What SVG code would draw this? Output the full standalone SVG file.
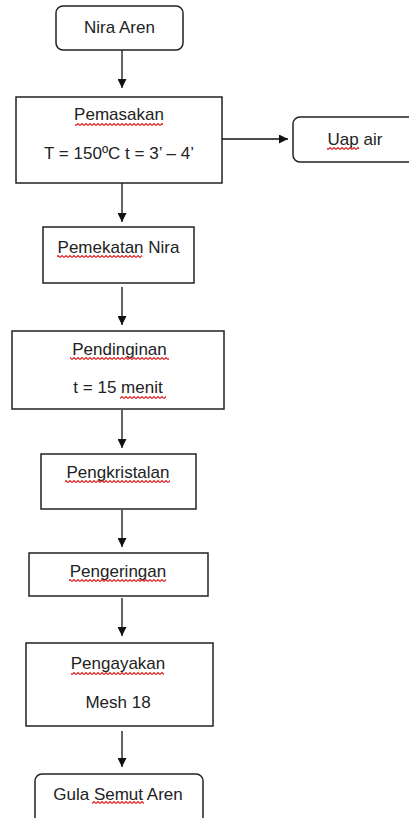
<svg xmlns="http://www.w3.org/2000/svg" width="409" height="818" viewBox="0 0 409 818">
<defs>
<style>
.box{fill:#fff;stroke:#222;stroke-width:1.5}
.t{font-family:"Liberation Sans",Arial,sans-serif;font-size:17px;fill:#222;text-anchor:middle}
.c{stroke:#111;stroke-width:1.3;fill:none}
.sq{fill:url(#sq)}
</style>
<marker id="ah" viewBox="0 0 10 10" refX="10" refY="5" markerWidth="9" markerHeight="9" markerUnits="userSpaceOnUse" orient="auto">
<path d="M0,0 L10,5 L0,10 Z" fill="#111"/>
</marker>
<pattern id="sq" patternUnits="userSpaceOnUse" width="4" height="3">
<path d="M0,2.5 L2,0.5 L4,2.5" stroke="#e02020" stroke-width="1.1" fill="none"/>
</pattern>
</defs>
<rect width="409" height="818" fill="#fff"/>
<g id="connectors">
<line class="c" x1="122" y1="50" x2="122" y2="88" marker-end="url(#ah)"/>
<line class="c" x1="222" y1="139" x2="288" y2="139" marker-end="url(#ah)"/>
<line class="c" x1="122" y1="183" x2="122" y2="222" marker-end="url(#ah)"/>
<line class="c" x1="122" y1="287" x2="122" y2="325" marker-end="url(#ah)"/>
<line class="c" x1="122" y1="410" x2="122" y2="448" marker-end="url(#ah)"/>
<line class="c" x1="122" y1="510" x2="122" y2="547" marker-end="url(#ah)"/>
<line class="c" x1="122" y1="598" x2="122" y2="636" marker-end="url(#ah)"/>
<line class="c" x1="122" y1="731" x2="122" y2="767" marker-end="url(#ah)"/>
</g>
<g id="nira-aren">
<rect class="box" x="56" y="6" width="127" height="44" rx="7"/>
<text class="t" x="119.5" y="33">Nira Aren</text>
</g>
<g id="pemasakan">
<rect class="box" x="16" y="97" width="206" height="86"/>
<text class="t" x="119" y="120">Pemasakan</text>
<rect class="sq" x="75" y="123" width="88" height="3"/>
<text class="t" x="119" y="159">T = 150ºC t = 3’ – 4’</text>
</g>
<g id="uap-air">
<rect class="box" x="293" y="117" width="130" height="45" rx="7"/>
<text class="t" x="355" y="145">Uap air</text>
<rect class="sq" x="327" y="147" width="32" height="3"/>
</g>
<g id="pemekatan-nira">
<rect class="box" x="43" y="227" width="151" height="56"/>
<text class="t" x="118.5" y="253">Pemekatan Nira</text>
<rect class="sq" x="57" y="255" width="85" height="3"/>
</g>
<g id="pendinginan">
<rect class="box" x="12" y="331" width="212" height="78"/>
<text class="t" x="119.5" y="355">Pendinginan</text>
<rect class="sq" x="70" y="357" width="99" height="3"/>
<text class="t" x="118" y="393">t = 15 menit</text>
<rect class="sq" x="120" y="396" width="46" height="3"/>
</g>
<g id="pengkristalan">
<rect class="box" x="41" y="454" width="155" height="55"/>
<text class="t" x="118" y="478">Pengkristalan</text>
<rect class="sq" x="65" y="480" width="105" height="3"/>
</g>
<g id="pengeringan">
<rect class="box" x="29" y="553" width="179" height="43"/>
<text class="t" x="118" y="577">Pengeringan</text>
<rect class="sq" x="69" y="579" width="97" height="3"/>
</g>
<g id="pengayakan">
<rect class="box" x="26" y="643" width="187" height="83"/>
<text class="t" x="118" y="669">Pengayakan</text>
<rect class="sq" x="71" y="672" width="93" height="3"/>
<text class="t" x="118" y="708">Mesh 18</text>
</g>
<g id="gula-semut-aren">
<rect class="box" x="35" y="774" width="168" height="60" rx="7"/>
<text class="t" x="118" y="800">Gula Semut Aren</text>
<rect class="sq" x="92" y="801" width="52" height="3"/>
</g>
</svg>
